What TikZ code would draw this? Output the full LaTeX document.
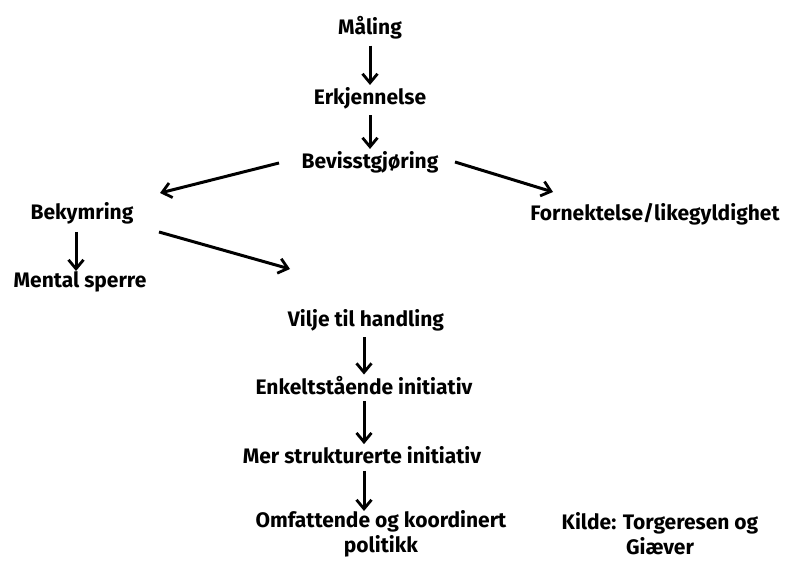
\documentclass[tikz,border=0pt]{standalone}
\usepackage{fontspec}
\setmainfont{Fira Sans}
\usetikzlibrary{arrows.meta}
\begin{document}
\begin{tikzpicture}[x=1pt,y=-1pt,
  lbl/.style={font=\fontsize{21}{25}\selectfont\bfseries, inner sep=1pt, align=center},
  arr/.style={-{Straight Barb[length=9pt,width=15pt,line width=2.8pt]}, line width=3pt, black},
  vert/.style={arr, shorten <=5pt, shorten >=1pt}]
\useasboundingbox (0,0) rectangle (787,561);
\node[lbl] (maal) at (370,28) {Måling};
\node[lbl] (erkj) at (370,98) {Erkjennelse};
\node[lbl] (bev) at (370,162) {Bevisstgjøring};
\node[lbl] (bek) at (82,213) {Bekymring};
\node[lbl] (forn) at (655,214) {Fornektelse/likegyldighet};
\node[lbl] (ment) at (80,282) {Mental sperre};
\node[lbl] (vil) at (366,320) {Vilje til handling};
\node[lbl] (enk) at (364,386) {Enkeltstående initiativ};
\node[lbl] (mer) at (362,455) {Mer strukturerte initiativ};
\node[lbl] (omf) at (381,534) {Omfattende og koordinert\\politikk};
\node[lbl] (kil) at (660,534) {Kilde: Torgeresen og\\Giæver};
\coordinate (lA) at (279,163);
\coordinate (lB) at (160,193);
\coordinate (rA) at (455,162);
\coordinate (rB) at (553,192);
\coordinate (bA) at (159,232);
\coordinate (bB) at (290,269);
\coordinate (mentTop) at (76,271);
\coordinate (bekBot) at (76,232);
\coordinate (omfTop) at (364,511);
\draw[vert] (maal) -- (erkj);
\draw[vert] (erkj) -- (bev);
\draw[arr] (lA) -- (lB);
\draw[arr] (rA) -- (rB);
\draw[arr] (bekBot) -- (mentTop);
\draw[arr] (bA) -- (bB);
\draw[vert] (vil.south -| enk.north) -- (enk.north);
\draw[vert] (enk) -- (enk |- mer.north);
\draw[arr] (enk |- mer.south) ++(0,6) -- (omfTop);
\end{tikzpicture}
\end{document}
